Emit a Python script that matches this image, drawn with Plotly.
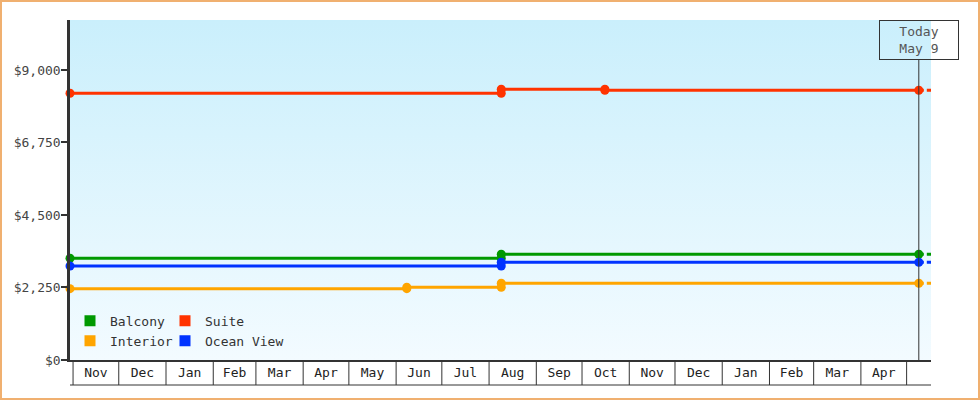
import pandas as pd
import plotly.graph_objects as go

# --- data ---
START = "2022-10-30"
TODAY = "2024-05-09"
END = "2024-05-17"
Y_MAX = 10550

balcony_dates = [START, "2023-08-09", "2023-08-09", TODAY]
balcony_prices = [3156, 3156, 3280, 3280]

suite_dates = [START, "2023-08-09", "2023-08-09", "2023-10-16", "2023-10-16", TODAY]
suite_prices = [8276, 8276, 8400, 8400, 8369, 8369]

interior_dates = [START, "2023-06-08", "2023-06-08", "2023-08-09", "2023-08-09", TODAY]
interior_prices = [2213, 2213, 2256, 2256, 2380, 2380]

ocean_dates = [START, "2023-08-09", "2023-08-09", TODAY]
ocean_prices = [2917, 2917, 3032, 3032]

y_ticks = [0, 2250, 4500, 6750, 9000]
month_starts = pd.date_range("2022-11-01", "2024-05-01", freq="MS")
month_labels = ["Nov", "Dec", "Jan", "Feb", "Mar", "Apr", "May", "Jun", "Jul",
                "Aug", "Sep", "Oct", "Nov", "Dec", "Jan", "Feb", "Mar", "Apr"]

# name, dates, prices, colour, legend slot
series = [
    ("Balcony", balcony_dates, balcony_prices, "#009900", "legend"),
    ("Suite", suite_dates, suite_prices, "#ff3300", "legend2"),
    ("Interior", interior_dates, interior_prices, "#ffa500", "legend3"),
    ("Ocean View", ocean_dates, ocean_prices, "#0033ff", "legend4"),
]

FONT = "DejaVu Sans Mono"
INK = "#333333"
W, H = 980, 400
L, R, T, B = 70, 49, 20, 40
PW, PH = W - L - R, H - T - B


def px_x(px):
    return (px - L) / PW


def px_y(py):
    return (H - B - py) / PH


fig = go.Figure()

# gradient background of the plot area
fig.add_trace(go.Scatter(
    x=[START, END, END, START], y=[0, 0, Y_MAX, Y_MAX],
    mode="lines", line=dict(width=0), fill="toself",
    fillgradient=dict(type="vertical", start=0, stop=Y_MAX,
                      colorscale=[[0, "#f3fbff"], [1, "#caeffc"]]),
    hoverinfo="skip", showlegend=False,
))

for name, dates, prices, color, leg in series:
    fig.add_trace(go.Scatter(
        x=dates, y=prices, mode="lines+markers", name=name,
        line=dict(color=color, width=3),
        marker=dict(color=color, size=9),
        cliponaxis=False, showlegend=False,
    ))
    # projected continuation after today
    fig.add_trace(go.Scatter(
        x=[dates[-1], END], y=[prices[-1], prices[-1]], mode="lines",
        line=dict(color=color, width=3, dash="5px,3px"),
        hoverinfo="skip", showlegend=False,
    ))
    # legend swatch
    fig.add_trace(go.Scatter(
        x=[None], y=[None], mode="markers", name=name, legend=leg,
        marker=dict(color=color, size=11, symbol="square"),
    ))

# month cells under the axis
mid_months = [s + (s + pd.offsets.MonthBegin(1) - s) / 2 for s in month_starts[:-1]]
for s in month_starts:
    fig.add_shape(type="line", xref="x", yref="paper", x0=s, x1=s,
                  y0=0, y1=px_y(385), line=dict(color=INK, width=1))
fig.add_shape(type="line", xref="paper", yref="paper", x0=0, x1=1,
              y0=px_y(385), y1=px_y(385), line=dict(color=INK, width=1))

# today marker
fig.add_shape(type="line", xref="x", yref="paper", x0=TODAY, x1=TODAY,
              y0=0, y1=px_y(60), line=dict(color=INK, width=1))
fig.add_annotation(x=TODAY, xref="x", y=1, yref="paper", yanchor="top",
                   xanchor="center", text="Today<br>May 9", showarrow=False,
                   width=78, height=38, borderwidth=1, borderpad=0,
                   bordercolor=INK, font=dict(family=FONT, size=13, color="#555555"))

# outer frame
fig.add_shape(type="rect", xref="paper", yref="paper",
              x0=px_x(1), x1=px_x(979), y0=px_y(399), y1=px_y(1),
              line=dict(color="#f0b070", width=2))


def legend_at(left, cy):
    return dict(orientation="h", x=px_x(left), xanchor="left", y=px_y(cy),
                yanchor="middle", bgcolor="rgba(0,0,0,0)",
                font=dict(family=FONT, size=13, color=INK))


fig.update_layout(
    width=W, height=H,
    margin=dict(l=L, r=R, t=T, b=B),
    paper_bgcolor="white", plot_bgcolor="white",
    font=dict(family=FONT, size=13, color=INK),
    legend=legend_at(70, 320.7),
    legend2=legend_at(165, 320.7),
    legend3=legend_at(70, 340.7),
    legend4=legend_at(165, 340.7),
    xaxis=dict(
        type="date", range=[START, END],
        tickmode="array", tickvals=mid_months, ticktext=month_labels,
        ticks="", showgrid=False, zeroline=False,
        showline=True, linecolor=INK, linewidth=1.5,
        tickfont=dict(family=FONT, size=13, color="#222222"),
    ),
    yaxis=dict(
        range=[0, Y_MAX], tickmode="array", tickvals=y_ticks,
        tickformat="$,.0f", ticks="outside", ticklen=6, tickwidth=2,
        tickcolor=INK, showgrid=False, zeroline=False,
        showline=True, linecolor=INK, linewidth=2.5,
        ticklabelstandoff=-2,
        tickfont=dict(family=FONT, size=13, color="#444444"),
    ),
)

fig.write_html("out.html", config={"displayModeBar": False},
               post_script="document.body.style.margin='0';")
